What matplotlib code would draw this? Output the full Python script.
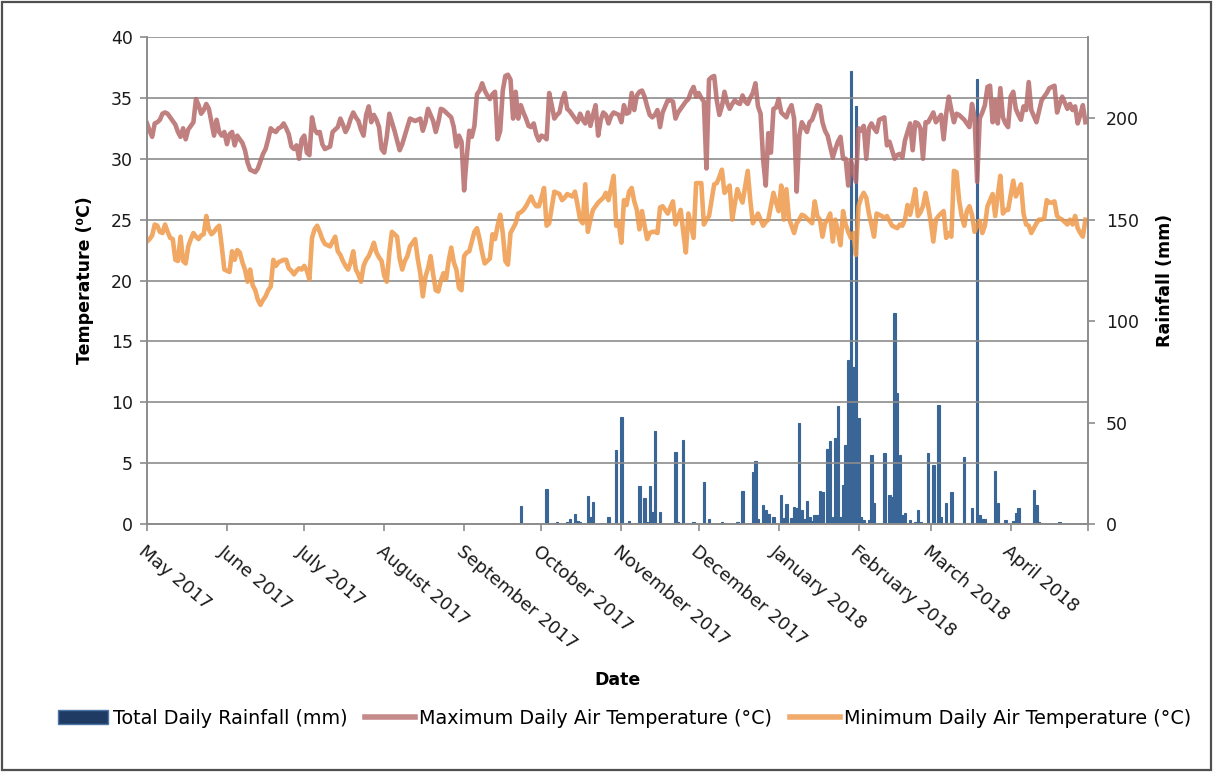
import matplotlib
matplotlib.use('Agg')
import matplotlib.pyplot as plt
import matplotlib.patches as mpatches
from matplotlib.lines import Line2D
import pandas as pd

plt.rcParams['font.family'] = ['DejaVu Sans']

# daily series, 1 May 2017 - 30 Apr 2018
start = pd.Timestamp('2017-05-01')
dates = pd.date_range(start, periods=365, freq='D')

max_temp = [
    32.9, 32.3, 31.8, 32.9, 33.0, 33.2, 33.7, 33.8, 33.7, 33.4,
    33.1, 32.8, 32.2, 31.8, 32.5, 31.6, 32.4, 32.7, 33.0, 34.9,
    34.4, 33.7, 34.0, 34.5, 34.1, 33.0, 31.9, 33.2, 32.2, 31.9,
    32.2, 31.2, 32.0, 32.2, 31.1, 31.9, 31.6, 31.3, 30.7, 29.7,
    29.1, 29.0, 28.9, 29.2, 29.8, 30.4, 30.8, 31.6, 32.5, 32.3,
    32.2, 32.5, 32.6, 32.9, 32.5, 32.0, 31.0, 30.8, 31.1, 30.0,
    31.6, 31.9, 30.5, 30.3, 33.4, 32.4, 32.1, 32.2, 31.2, 30.8,
    30.9, 31.0, 32.2, 32.4, 32.6, 33.3, 32.8, 32.2, 32.6, 33.3,
    33.8, 33.4, 33.1, 32.4, 31.9, 33.6, 34.3, 33.0, 33.6, 33.2,
    32.6, 30.8, 30.5, 31.8, 33.7, 33.0, 32.3, 31.5, 30.7, 31.2,
    31.9, 32.6, 33.3, 33.2, 33.1, 33.2, 33.3, 32.3, 33.0, 34.1,
    33.6, 33.1, 32.2, 33.0, 34.1, 34.0, 33.8, 33.6, 33.4, 32.6,
    31.0, 31.9, 31.4, 27.4, 30.1, 32.3, 31.8, 32.7, 35.3, 35.6,
    36.2, 35.6, 35.2, 34.9, 35.3, 35.5, 31.6, 32.3, 35.6, 36.8,
    36.9, 36.5, 33.3, 35.5, 33.3, 34.4, 33.8, 33.3, 32.7, 32.6,
    32.9, 32.0, 31.5, 31.9, 31.8, 31.6, 35.4, 34.4, 33.3, 33.6,
    33.8, 34.8, 35.4, 34.1, 33.9, 33.6, 33.3, 33.0, 33.7, 33.2,
    32.9, 33.8, 32.7, 33.6, 34.4, 31.9, 33.2, 33.8, 33.6, 32.9,
    33.5, 33.8, 33.7, 33.6, 33.0, 34.4, 33.7, 33.8, 35.4, 34.0,
    35.2, 35.5, 35.6, 35.1, 34.3, 33.6, 33.4, 33.6, 34.0, 32.6,
    33.8, 34.3, 34.8, 34.8, 34.7, 33.3, 33.8, 34.1, 34.4, 34.7,
    34.9, 35.5, 35.9, 35.1, 35.4, 35.0, 34.7, 29.2, 36.5, 36.7,
    36.8, 34.8, 33.6, 34.3, 35.5, 34.6, 34.1, 34.5, 34.8, 34.6,
    34.5, 35.2, 34.7, 34.5, 35.0, 35.4, 36.2, 34.3, 33.7, 29.9,
    27.8, 32.1, 30.5, 34.1, 34.2, 34.9, 33.8, 33.6, 33.4, 34.0,
    34.4, 33.3, 27.3, 31.9, 33.0, 32.6, 32.2, 33.0, 33.2, 33.8,
    34.4, 34.3, 33.0, 32.3, 31.9, 31.0, 30.1, 30.8, 31.4, 31.8,
    30.0, 30.0, 27.8, 29.9, 29.0, 28.1, 32.5, 32.3, 32.7, 30.0,
    32.5, 32.9, 32.5, 32.2, 33.2, 33.3, 33.4, 31.1, 31.4, 30.7,
    30.0, 30.3, 30.4, 30.1, 31.5, 32.2, 32.9, 30.7, 33.0, 32.9,
    32.5, 30.0, 33.0, 33.0, 33.4, 33.8, 33.0, 33.3, 33.6, 31.6,
    33.7, 35.1, 34.0, 33.0, 33.7, 33.6, 33.4, 33.2, 32.9, 32.6,
    34.5, 33.4, 28.1, 33.3, 33.8, 34.4, 35.9, 36.0, 33.0, 34.8,
    32.9, 35.8, 33.4, 32.9, 32.6, 35.1, 35.5, 34.1, 33.6, 33.2,
    34.3, 34.0, 36.3, 34.0, 33.5, 33.0, 33.9, 34.8, 35.1, 35.4,
    35.8, 35.9, 36.0, 33.8, 34.5, 35.1, 34.6, 34.1, 34.5, 34.0,
    34.3, 32.9, 33.6, 34.4, 33.0,
]

min_temp = [
    23.2, 23.4, 23.7, 24.6, 24.5, 24.0, 23.9, 24.6, 24.0, 23.5,
    23.4, 21.7, 21.6, 23.6, 21.6, 21.4, 22.8, 23.4, 23.9, 23.6,
    23.4, 23.7, 23.8, 25.3, 24.2, 23.8, 24.0, 24.3, 24.5, 22.8,
    20.9, 20.8, 20.7, 22.4, 21.7, 22.5, 22.3, 21.5, 20.9, 19.9,
    20.9, 19.6, 19.2, 18.4, 18.0, 18.4, 18.7, 19.2, 19.5, 21.7,
    21.2, 21.5, 21.6, 21.7, 21.7, 21.0, 20.8, 20.5, 20.8, 21.0,
    20.9, 21.2, 20.8, 20.1, 23.5, 24.2, 24.5, 24.0, 23.4, 23.0,
    22.9, 22.8, 23.2, 23.6, 22.4, 22.1, 21.6, 21.2, 20.9, 21.5,
    22.4, 20.9, 20.5, 19.9, 21.2, 21.7, 22.0, 22.5, 23.1, 22.3,
    21.9, 21.6, 20.4, 19.9, 22.3, 24.0, 23.8, 23.6, 21.8, 20.9,
    21.6, 22.0, 22.8, 23.1, 23.4, 21.8, 20.6, 18.7, 20.3, 21.0,
    22.0, 20.5, 19.2, 19.1, 20.0, 20.6, 20.1, 21.6, 22.7, 21.5,
    20.9, 19.4, 19.2, 22.0, 22.3, 22.4, 23.2, 24.0, 24.3, 23.4,
    22.3, 21.4, 21.6, 21.8, 23.8, 23.4, 24.5, 25.4, 23.9, 21.6,
    21.3, 23.9, 24.3, 24.7, 25.5, 25.6, 25.8, 26.1, 26.5, 26.9,
    26.4, 26.1, 26.1, 26.8, 27.6, 24.5, 24.7, 26.0, 27.3, 27.2,
    27.1, 26.6, 26.8, 27.1, 27.0, 26.9, 27.3, 26.2, 25.0, 24.7,
    27.9, 24.0, 25.0, 25.8, 26.1, 26.4, 26.6, 26.8, 27.2, 26.6,
    27.6, 28.6, 24.5, 24.7, 23.1, 26.6, 26.2, 27.3, 27.6, 26.5,
    25.8, 24.2, 25.7, 24.5, 23.4, 23.9, 24.0, 24.0, 23.9, 26.0,
    26.1, 25.8, 25.5, 26.0, 26.5, 24.6, 25.2, 25.8, 24.0, 22.3,
    25.5, 24.5, 23.5, 28.0, 28.0, 28.0, 24.6, 25.0, 25.3, 26.6,
    27.9, 28.0, 28.5, 29.1, 27.2, 27.5, 27.8, 25.0, 26.3, 27.5,
    26.9, 26.4, 27.7, 29.0, 26.6, 24.7, 25.1, 25.5, 25.0, 24.5,
    24.8, 25.0, 26.1, 27.2, 26.4, 25.7, 27.8, 25.0, 27.5, 25.1,
    24.5, 23.9, 24.7, 25.0, 25.4, 25.3, 25.1, 24.9, 24.7, 26.5,
    25.3, 25.0, 23.6, 24.7, 25.0, 25.5, 23.2, 25.0, 24.0, 22.9,
    25.7, 24.6, 24.0, 23.5, 23.9, 22.1, 26.1, 26.8, 27.2, 26.8,
    25.5, 24.6, 23.6, 25.5, 25.4, 25.3, 25.1, 25.3, 24.9, 24.5,
    24.4, 24.3, 24.6, 24.5, 25.0, 26.2, 25.4, 26.4, 27.5, 25.3,
    25.6, 26.1, 27.2, 26.1, 24.8, 23.2, 25.0, 25.3, 25.5, 25.7,
    23.5, 23.9, 23.6, 29.0, 28.9, 26.6, 25.3, 24.5, 25.7, 26.1,
    25.4, 24.0, 24.5, 24.9, 23.9, 24.5, 26.1, 26.6, 27.1, 25.3,
    27.0, 28.6, 25.5, 25.8, 25.8, 27.0, 28.2, 26.9, 27.4, 27.9,
    25.5, 24.6, 24.5, 23.9, 24.3, 24.7, 25.0, 25.0, 25.1, 26.6,
    26.4, 26.4, 26.5, 25.3, 25.1, 25.0, 24.8, 24.6, 25.0, 24.6,
    25.3, 24.3, 23.9, 23.6, 25.0,
]

# rain only on these days (days after 1 May 2017)
rain_day = [145, 155, 159, 163, 164, 166, 167, 168, 171, 172, 173, 179, 182, 184, 187,
            191, 193, 194, 195, 196, 197, 199, 205, 206, 208, 212,
            216, 218, 223, 229, 231, 235, 236, 237, 239, 240, 241, 243, 246, 247, 248,
            250, 251, 252, 253, 254, 255, 256, 257, 258, 259, 260, 261, 262,
            264, 265, 266, 267, 268, 269, 270, 271, 272, 273, 274, 275, 276, 277, 278,
            280, 281, 282, 286, 288, 289, 290, 291, 292, 293, 294, 296, 298, 299, 300,
            303, 305, 307, 308, 310, 312, 317, 320, 322, 323, 324, 325,
            329, 330, 333, 336, 337, 338, 344, 345, 346, 354]
rain_mm = [8.9, 17.2, 1.1, 1.1, 2.3, 4.9, 1.6, 1.1, 14.0, 3.3, 10.7, 3.6, 36.5, 52.9, 1.6,
           18.9, 12.6, 1.1, 18.9, 6.1, 46.0, 6.1, 35.6, 1.1, 41.4, 1.1,
           20.9, 2.3, 1.1, 1.1, 16.4, 25.8, 31.2, 2.3, 9.4, 6.9, 4.9, 3.6, 14.3, 2.8, 9.9,
           2.8, 8.2, 7.7, 49.6, 6.9, 2.3, 11.5, 3.6, 1.6, 4.4, 4.4, 16.4, 15.9,
           36.8, 40.9, 3.6, 42.2, 58.3, 3.6, 19.2, 38.9, 80.8, 223.0, 77.5, 206.0, 52.0, 3.6, 2.0,
           2.0, 34.0, 10.2, 35.1, 14.3, 13.5, 103.8, 64.4, 34.0, 4.4, 5.3, 2.0, 1.1, 6.9, 1.1,
           35.1, 29.1, 58.6, 3.6, 10.2, 15.9, 33.2, 7.7, 219.5, 4.4, 2.3, 2.3,
           26.3, 10.2, 2.0, 1.6, 5.3, 7.7, 16.7, 9.4, 1.1, 1.1]

month_ticks = pd.date_range('2017-05-01', '2018-05-01', freq='MS')
month_labels = ['May 2017', 'June 2017', 'July 2017', 'August 2017', 'September 2017',
                'October 2017', 'November 2017', 'December 2017', 'January 2018',
                'February 2018', 'March 2018', 'April 2018', '']

rain_dates = start + pd.to_timedelta(rain_day, unit='D')

rain_col = '#3a6597'
max_col = '#b56a6a'
min_col = '#ee9949'
grid_col = '#8c8c8c'

fig = plt.figure(figsize=(12.15, 7.72), dpi=100)
ax = fig.add_axes([147 / 1215, 1 - 524 / 772, (1088 - 147) / 1215, (524 - 37) / 772])
ax2 = ax.twinx()
ax.set_zorder(2)
ax2.set_zorder(1)
ax.patch.set_visible(False)

ax2.bar(rain_dates, rain_mm, width=0.95, color=rain_col, edgecolor=rain_col, linewidth=0.8)
ax.plot(dates, max_temp, color=max_col, lw=3.3, alpha=0.85, solid_joinstyle='round')
ax.plot(dates, min_temp, color=min_col, lw=3.3, alpha=0.85, solid_joinstyle='round')

ax.set_ylim(0, 40)
ax.set_yticks(range(0, 41, 5))
ax2.set_ylim(0, 240)
ax2.set_yticks([0, 50, 100, 150, 200])
ax.set_xlim(start, pd.Timestamp('2018-05-01'))
ax.set_xticks(month_ticks)
ax.set_xticklabels(month_labels)
ax.yaxis.grid(True, color=grid_col, lw=1.2)

for a in (ax, ax2):
    a.spines['top'].set_visible(False)
    for s in ('left', 'right', 'bottom'):
        a.spines[s].set_color(grid_col)
        a.spines[s].set_linewidth(1.2)
    a.tick_params(direction='out', length=5, width=1.2, color=grid_col,
                  labelsize=12.5, labelcolor='#1a1a1a')
ax.tick_params(axis='y', pad=5)
ax2.tick_params(axis='y', pad=8)
ax.tick_params(axis='x', pad=8, labelsize=13)
for lbl in ax.get_xticklabels():
    lbl.set_rotation(-40)
    lbl.set_ha('left')
    lbl.set_va('top')
    lbl.set_rotation_mode('anchor')

fig.text(85 / 1215, 1 - 280 / 772, 'Temperature (⁰C)', rotation=90, ha='center', va='center',
         fontsize=12.5, fontweight='bold')
fig.text(1165 / 1215, 1 - 280 / 772, 'Rainfall (mm)', rotation=90, ha='center', va='center',
         fontsize=12.5, fontweight='bold')
fig.text(617 / 1215, 1 - 680 / 772, 'Date', ha='center', va='center',
         fontsize=12.5, fontweight='bold')

handles = [mpatches.Patch(facecolor='#1f3b63', edgecolor='#4a76a8', lw=1),
           Line2D([], [], color='#c58a8a', lw=4),
           Line2D([], [], color='#f0aa6c', lw=4)]
labels = ['Total Daily Rainfall (mm)', 'Maximum Daily Air Temperature (°C)',
          'Minimum Daily Air Temperature (°C)']
fig.legend(handles, labels, loc='center', bbox_to_anchor=(625 / 1215, 1 - 718 / 772), ncol=3,
           frameon=False, fontsize=13.8, handlelength=2.6, handleheight=0.75,
           columnspacing=0.9, handletextpad=0.25)

fig.patches.append(mpatches.Rectangle((0.002, 0.003), 0.995, 0.994, transform=fig.transFigure,
                                      fill=False, edgecolor='#505050', lw=1.6))

fig.savefig('out.png', dpi=100)
